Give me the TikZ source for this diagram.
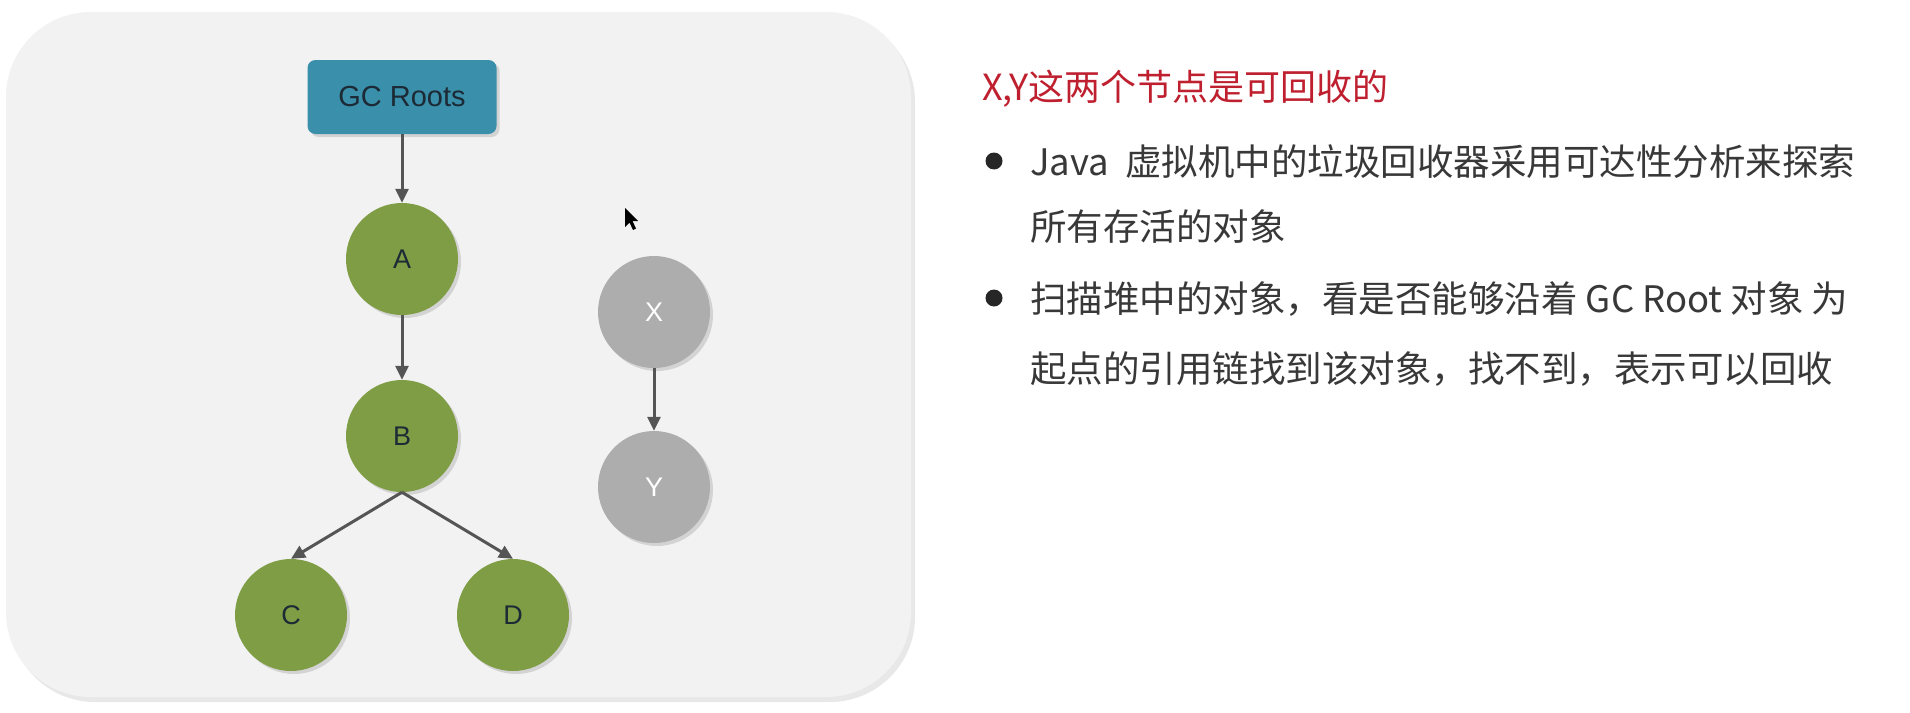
\documentclass[tikz,border=0pt]{standalone}
\usepackage{fontspec}
\setmainfont{Liberation Sans}
\newfontfamily\cjk{Noto Sans CJK SC}
\usetikzlibrary{shadows,arrows.meta}
\definecolor{panelbg}{HTML}{F2F2F2}
\definecolor{rootblue}{HTML}{3A8FAA}
\definecolor{roottext}{HTML}{1C2A36}
\definecolor{nodegreen}{HTML}{7F9D45}
\definecolor{nodegray}{HTML}{ADADAD}
\definecolor{arrowgray}{HTML}{555555}
\definecolor{titlered}{HTML}{BF2030}
\definecolor{bodytext}{HTML}{383838}
\tikzset{
  softshadow/.style={drop shadow={opacity=0.22, shadow xshift=3pt, shadow yshift=-3pt, fill=black!60}},
  rootbox/.style={rectangle, rounded corners=8pt, minimum width=189pt, minimum height=74pt,
    fill=rootblue, text=roottext, font=\fontsize{29}{32}\selectfont, softshadow},
  live/.style={circle, minimum size=112pt, inner sep=0pt, fill=nodegreen, text=roottext,
    font=\fontsize{27}{30}\selectfont, softshadow},
  dead/.style={circle, minimum size=112pt, inner sep=0pt, fill=nodegray, text=white,
    font=\fontsize{27}{30}\selectfont, softshadow},
  ref/.style={draw=arrowgray, line width=3pt, -{Triangle[length=14pt,width=13pt]}},
  titletext/.style={anchor=base west, inner sep=0pt, text=titlered, font=\cjk\fontsize{36}{40}\selectfont},
  bodyline/.style={anchor=base west, inner sep=0pt, text=bodytext, font=\cjk\fontsize{36.5}{40}\selectfont},
  bulletdot/.style={circle, fill=black!85, minimum size=17pt, inner sep=0pt}
}
\begin{document}
\begin{tikzpicture}[x=1pt,y=-1pt]
\useasboundingbox (0,0) rectangle (1910,712);
\fill[white] (0,0) rectangle (1910,712);
\fill[panelbg, rounded corners=85pt, drop shadow={opacity=0.18, shadow xshift=4pt, shadow yshift=-5pt, fill=black!50}] (6,12) rectangle (911,697);

\node[rootbox] (gc) at (402,97) {GC Roots};
\node[live] (A) at (402,259) {A};
\node[live] (B) at (402,436) {B};
\node[live] (C) at (291,615) {C};
\node[live] (D) at (513,615) {D};
\node[dead] (X) at (654,312) {X};
\node[dead] (Y) at (654,487) {Y};

\draw[ref] (gc.south) -- (A.north);
\draw[ref] (A.south) -- (B.north);
\draw[ref] (B.south) -- (C.north);
\draw[ref] (B.south) -- (D.north);
\draw[ref] (X.south) -- (Y.north);

\fill[black] (625,208) -- (625,227) -- (629.5,222.5) -- (633,230) -- (636,228.5) -- (632.5,221) -- (638,221) -- cycle;

\node[titletext] (title) at (982,100) {X,Y这两个节点是可回收的};
\node[bulletdot] (b1) at (994,161) {};
\node[bodyline] (l1) at (1030,175) {Java\hspace{16pt}虚拟机中的垃圾回收器采用可达性分析来探索};
\node[bodyline] (l2) at (1030,240) {所有存活的对象};
\node[bulletdot] (b2) at (994,298) {};
\node[bodyline] (l3) at (1030,312) {扫描堆中的对象，看是否能够沿着 GC Root 对象 为};
\node[bodyline] (l4) at (1030,382) {起点的引用链找到该对象，找不到，表示可以回收};
\end{tikzpicture}
\end{document}
